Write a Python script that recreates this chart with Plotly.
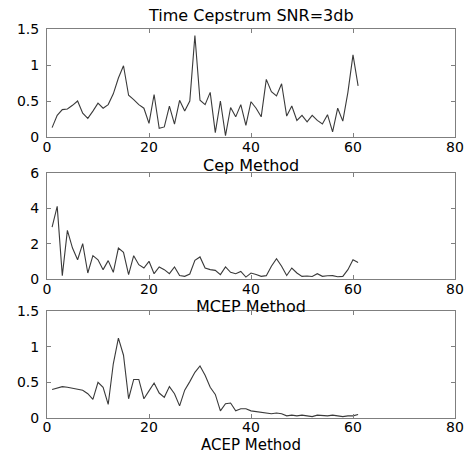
import plotly.graph_objects as go

# sample index (quefrency bins)
n = list(range(1, 62))

# Time cepstrum, SNR = 3db
cep = [0.13, 0.30, 0.38, 0.39, 0.44, 0.50, 0.33, 0.26, 0.36, 0.47,
       0.40, 0.45, 0.60, 0.82, 0.99, 0.58, 0.52, 0.45, 0.40, 0.19,
       0.59, 0.12, 0.14, 0.43, 0.18, 0.51, 0.36, 0.50, 1.41, 0.51,
       0.45, 0.62, 0.06, 0.50, 0.02, 0.41, 0.28, 0.45, 0.16, 0.49,
       0.40, 0.28, 0.80, 0.63, 0.57, 0.74, 0.29, 0.43, 0.23, 0.30,
       0.21, 0.30, 0.23, 0.18, 0.31, 0.07, 0.40, 0.22, 0.62, 1.14,
       0.71]

# MCEP method
mcep = [2.94, 4.11, 0.19, 2.75, 1.75, 1.09, 2.00, 0.34, 1.32, 1.09,
        0.53, 1.04, 0.38, 1.75, 1.51, 0.25, 1.32, 0.81, 0.62, 1.00,
        0.30, 0.68, 0.53, 0.30, 0.68, 0.20, 0.15, 0.28, 1.06, 1.25,
        0.62, 0.53, 0.49, 0.25, 0.68, 0.38, 0.30, 0.43, 0.11, 0.34,
        0.25, 0.15, 0.19, 0.72, 1.15, 0.72, 0.20, 0.62, 0.34, 0.15,
        0.17, 0.14, 0.30, 0.15, 0.18, 0.19, 0.13, 0.15, 0.53, 1.09,
        0.94]

# ACEP method
acep = [0.40, 0.42, 0.44, 0.43, 0.42, 0.41, 0.39, 0.34, 0.26, 0.50,
        0.43, 0.19, 0.76, 1.12, 0.88, 0.27, 0.54, 0.54, 0.27, 0.38,
        0.49, 0.35, 0.29, 0.44, 0.34, 0.17, 0.39, 0.51, 0.64, 0.73,
        0.60, 0.43, 0.33, 0.10, 0.20, 0.21, 0.10, 0.13, 0.13, 0.10,
        0.09, 0.09, 0.08, 0.06, 0.07, 0.06, 0.03, 0.04, 0.03, 0.04,
        0.03, 0.02, 0.04, 0.03, 0.03, 0.04, 0.03, 0.02, 0.03, 0.03,
        0.05]

series = [cep, mcep, acep]
y_ranges = [[0, 1.5], [0, 6], [0, 1.5]]
y_ticks = [[0, 0.5, 1, 1.5], [0, 2, 4, 6], [0, 0.5, 1, 1.5]]
x_ticks = [0, 20, 40, 60, 80]

labels = ["Time Cepstrum SNR=3db", "Cep Method", "MCEP Method", "ACEP Method"]

W, H = 467, 453
# panel boxes in pixels (top, bottom)
boxes = [(29, 137), (173, 279), (311, 418)]

FONT = "DejaVu Sans"

fig = go.Figure()
for i, ys in enumerate(series):
    k = "" if i == 0 else str(i + 1)
    fig.add_trace(go.Scatter(x=n, y=ys, mode="lines",
                             line=dict(color="#3a3a3a", width=1.1),
                             xaxis="x" + k, yaxis="y" + k, showlegend=False))
    top, bot = boxes[i]
    common = dict(showgrid=False, zeroline=False, showline=True, mirror="ticks",
                  linecolor="#7f7f7f", linewidth=1, ticks="inside", ticklen=4,
                  tickcolor="#7f7f7f", automargin=False)
    fig.layout["xaxis" + k] = dict(domain=[0, 1], range=[0, 80], tickvals=x_ticks,
                                   anchor="y" + k, tickfont=dict(family=FONT, size=14, color="black"),
                                   ticklabelstandoff=-4 if i == 2 else -3, **common)
    fig.layout["yaxis" + k] = dict(domain=[1 - bot / H, 1 - top / H], range=y_ranges[i],
                                   tickvals=y_ticks[i], anchor="x" + k,
                                   tickfont=dict(family=FONT, size=14, color="black"),
                                   ticklabelstandoff=4, **common)

# title and method labels (top edge of each text, px)
label_top = [5, 155, 296, 435]
label_size = [16, 16, 16, 15]
for txt, py, sz in zip(labels, label_top, label_size):
    fig.add_annotation(text=txt, x=0.5, xref="paper", y=1 - py / H, yref="paper",
                       showarrow=False, xanchor="center", yanchor="top", borderpad=0,
                       font=dict(family=FONT, size=sz, color="black"))

fig.update_layout(width=W, height=H, autosize=False,
                  margin=dict(l=47, r=12, t=0, b=0, autoexpand=False),
                  paper_bgcolor="white", plot_bgcolor="white")

# page body margin would shift the figure by 8px
fig.write_html("out.html", config={"displayModeBar": False},
               post_script="document.body.style.margin='0';")
